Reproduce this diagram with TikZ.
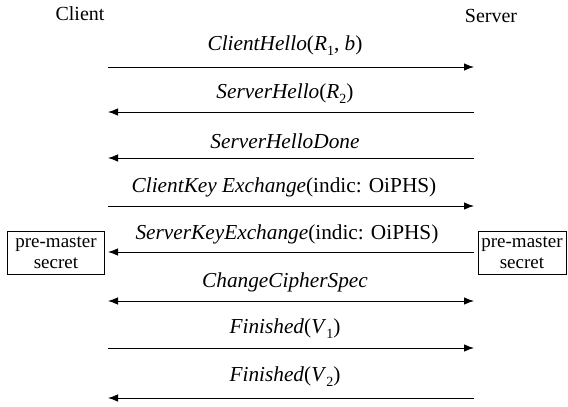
\documentclass[tikz,border=0pt]{standalone}
\usepackage{fontspec}
\setmainfont{Liberation Serif}
\usetikzlibrary{arrows.meta}
\newcommand{\lowsub}[1]{\raisebox{-5pt}{\fontsize{14}{14}\selectfont #1}}
\begin{document}
\begin{tikzpicture}[x=1pt,y=-1pt,
  msg/.style={line width=0.9pt,-{Latex[length=10pt,width=7.5pt]}},
  both/.style={line width=0.9pt,{Latex[length=10pt,width=7.5pt]}-{Latex[length=10pt,width=7.5pt]}},
  lbl/.style={font=\fontsize{21.3}{23}\selectfont,inner sep=0pt},
  party/.style={font=\fontsize{20}{22}\selectfont,inner sep=0pt},
  keybox/.style={draw,line width=0.7pt,font=\fontsize{19}{21}\selectfont,align=center,inner sep=0pt,minimum width=97pt,minimum height=43pt}]
\useasboundingbox (0,0) rectangle (568,407);
\node[party] (client) at (80,14) {Client};
\node[party] (server) at (491,16) {Server};
% message endpoints
\foreach \n/\y in {1/67,2/112,3/158,4/206,5/252,6/301,7/348,8/398}{
  \coordinate (c\n) at (108,\y);
  \coordinate (s\n) at (474,\y);
}
\draw[msg] (c1) -- (s1);
\draw[msg] (s2) -- (c2);
\draw[msg] (s3) -- (c3);
\draw[msg] (c4) -- (s4);
\draw[msg] (s5) -- (c5);
\draw[both] (c6) -- (s6);
\draw[msg] (c7) -- (s7);
\draw[msg] (s8) -- (c8);
\node[lbl] (m1) at (285,46) {\textit{ClientHello}(\textit{R}\lowsub{1}, \textit{b})};
\node[lbl] (m2) at (285,94) {\textit{ServerHello}(\textit{R}\lowsub{2})};
\node[lbl] (m3) at (285,141) {\textit{ServerHelloDone}};
\node[lbl] (m4) at (284,187) {\textit{ClientKey Exchange}(indic: OiPHS)};
\node[lbl] (m5) at (287,234) {\textit{ServerKeyExchange}(indic: OiPHS)};
\node[lbl] (m6) at (285,282) {\textit{ChangeCipherSpec}};
\node[lbl] (m7) at (285,329) {\textit{Finished}(\textit{V}\lowsub{1})};
\node[lbl] (m8) at (285,377) {\textit{Finished}(\textit{V}\lowsub{2})};
\node[keybox] (pmc) at (56,252.5) {pre-master\\secret};
\node[keybox,minimum width=88pt] (pms) at (522,252.5) {pre-master\\secret};
\end{tikzpicture}
\end{document}
